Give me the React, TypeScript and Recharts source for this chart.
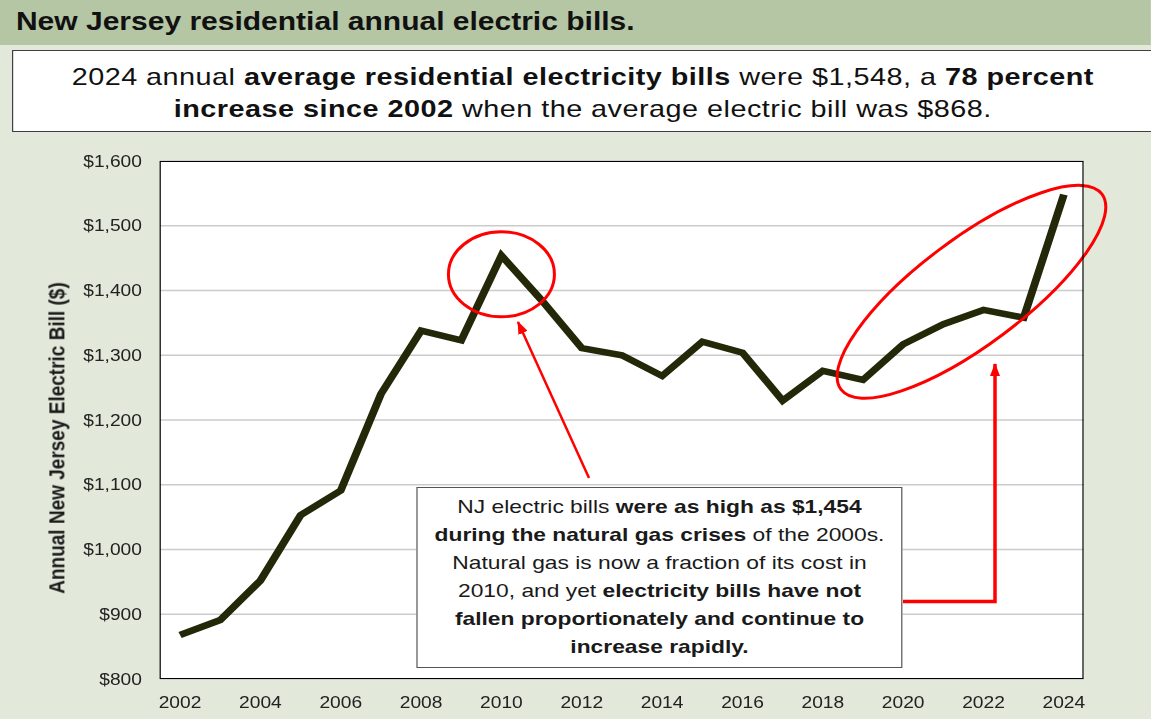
import { LineChart, Line, XAxis, YAxis, CartesianGrid, ReferenceDot } from "recharts";

// NJ average residential electric bill
const years = [
  2002, 2003, 2004, 2005, 2006, 2007, 2008, 2009, 2010, 2011, 2012, 2013,
  2014, 2015, 2016, 2017, 2018, 2019, 2020, 2021, 2022, 2023, 2024,
];
const bills = [
  868, 891, 952, 1053, 1091, 1240, 1338, 1323, 1454, 1385, 1311, 1300,
  1268, 1321, 1304, 1230, 1276, 1262, 1317, 1348, 1370, 1358, 1548,
];
const yearTicks = [2002, 2004, 2006, 2008, 2010, 2012, 2014, 2016, 2018, 2020, 2022, 2024];
const billTicks = [800, 900, 1000, 1100, 1200, 1300, 1400, 1500, 1600];

// the source image is stretched sideways, so draw narrow and scale x
const S = 1.2;
const W = 1151 / S;
const FONT = '"Liberation Sans", Arial, sans-serif';

const data = years.map((year, i) => ({ year, bill: bills[i] }));

const money = (v: number) => "$" + v.toLocaleString("en-US");

// ellipse drawn in screen (stretched) space around a data anchor
const ring = (rx: number, ry: number, angle: number) => (props: any) => (
  <g transform={`translate(${props.cx} ${props.cy}) scale(${1 / S} 1) rotate(${angle})`}>
    <ellipse rx={rx} ry={ry} fill="none" stroke="#ff0000" strokeWidth={3} />
  </g>
);

export default function App() {
  return (
    <div style={{ position: "absolute", left: 0, top: 0, width: 1151, height: 719, overflow: "hidden", background: "#e2e8da" }}>
      <div
        style={{
          position: "absolute",
          left: 0,
          top: 0,
          width: W,
          height: 719,
          transform: `scaleX(${S})`,
          transformOrigin: "0 0",
          fontFamily: FONT,
          color: "#111",
        }}
      >
        <div style={{ position: "absolute", left: 0, top: 0, width: W, height: 45, background: "#b5c6a4" }} />
        <div style={{ position: "absolute", left: 13.3, top: 6, fontSize: 25, fontWeight: "bold", lineHeight: "30px", whiteSpace: "nowrap" }}>
          New Jersey residential annual electric bills.
        </div>

        <div
          style={{
            position: "absolute",
            left: 10.3,
            top: 50,
            width: 949.7,
            height: 82,
            boxSizing: "border-box",
            background: "#fff",
            border: "1px solid #404040",
            borderRight: "none",
            textAlign: "center",
            fontSize: 24,
            letterSpacing: 0.4,
            lineHeight: "32px",
            paddingTop: 10,
            whiteSpace: "nowrap",
          }}
        >
          2024 annual <b>average residential electricity bills</b> were $1,548, a <b>78 percent</b>
          <br />
          <b>increase since 2002</b> when the average electric bill was $868.
        </div>

        <div style={{ position: "absolute", left: 0, top: 0 }}>
          <LineChart width={W} height={719} data={data} margin={{ top: 161, right: W - 903.3, bottom: 0, left: 63.3 }}>
            <CartesianGrid vertical={false} stroke="#cbcbcb" strokeWidth={1.5} fill="#ffffff" />
            <XAxis
              dataKey="year"
              type="number"
              domain={[2001.5, 2024.5]}
              ticks={yearTicks}
              height={40}
              axisLine={false}
              tickLine={false}
              tickMargin={12}
              tick={{ fill: "#222", fontSize: 16 }}
            />
            <YAxis
              domain={[800, 1600]}
              ticks={billTicks}
              width={70}
              axisLine={false}
              tickLine={false}
              tickMargin={9}
              tickFormatter={money}
              tick={{ fill: "#222", fontSize: 16 }}
            />
            <Line
              dataKey="bill"
              stroke="#222808"
              strokeWidth={6.5}
              dot={false}
              isAnimationActive={false}
            />
            <ReferenceDot x={2010} y={1425} ifOverflow="visible" shape={ring(53, 42.5, 0)} />
            <ReferenceDot x={2021.7} y={1398} ifOverflow="visible" shape={ring(163, 53, -36.8)} />
          </LineChart>
        </div>

        <div
          style={{
            position: "absolute",
            left: 133.3,
            top: 161,
            width: 770,
            height: 518,
            boxSizing: "border-box",
            border: "1px solid #000",
            pointerEvents: "none",
          }}
        />

        <div
          style={{
            position: "absolute",
            left: 48.3,
            top: 438,
            transform: "translate(-50%, -50%) rotate(-90deg)",
            fontSize: 19,
            fontWeight: "bold",
            whiteSpace: "nowrap",
            color: "#1a1a1a",
          }}
        >
          Annual New Jersey Electric Bill ($)
        </div>

        <div
          style={{
            position: "absolute",
            left: 346.7,
            top: 487,
            width: 405.8,
            height: 181,
            boxSizing: "border-box",
            background: "#fff",
            border: "1px solid #555",
            textAlign: "center",
            fontSize: 19,
            lineHeight: "28px",
            paddingTop: 5,
            whiteSpace: "nowrap",
            color: "#1a1a1a",
          }}
        >
          NJ electric bills <b>were as high as $1,454</b>
          <br />
          <b>during the natural gas crises</b> of the 2000s.
          <br />
          Natural gas is now a fraction of its cost in
          <br />
          2010, and yet <b>electricity bills have not</b>
          <br />
          <b>fallen proportionately and continue to</b>
          <br />
          <b>increase rapidly.</b>
        </div>
      </div>

      <svg width={1151} height={719} style={{ position: "absolute", left: 0, top: 0, pointerEvents: "none" }}>
        <defs>
          <marker id="head" markerUnits="userSpaceOnUse" markerWidth={13} markerHeight={10} refX={12} refY={5} orient="auto">
            <path d="M0,0 L13,5 L0,10 z" fill="#ff0000" />
          </marker>
        </defs>
        <line x1={589} y1={478} x2={518} y2={322} stroke="#ff0000" strokeWidth={2.5} markerEnd="url(#head)" />
        <polyline points="903,601.5 995,601.5 995,364" fill="none" stroke="#ff0000" strokeWidth={3.5} markerEnd="url(#head)" />
      </svg>
    </div>
  );
}
